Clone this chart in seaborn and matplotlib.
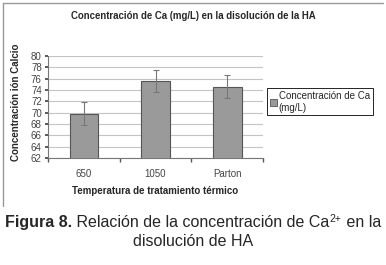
import matplotlib
matplotlib.use("Agg")
import matplotlib.pyplot as plt
from matplotlib.patches import Patch
from matplotlib.lines import Line2D
import seaborn as sns
import pandas as pd

# Data
categories = ["650", "1050", "Parton"]
calcium = [69.8, 75.6, 74.6]
errors = [2.0, 2.0, 2.0]

title = "Concentración de Ca (mg/L) en la disolución de la HA"
xlabel = "Temperatura de tratamiento térmico"
ylabel = "Concentración ión Calcio"
legend_label = "Concentración de Ca\n(mg/L)"
yticks = list(range(62, 81, 2))

df = pd.DataFrame({"cat": categories, "ca": calcium, "err": errors})

sns.set_theme(style="white")
plt.rcParams["font.family"] = ["Liberation Sans", "DejaVu Sans"]

W, H = 386, 265
fig = plt.figure(figsize=(W / 100, H / 100), dpi=100)
ax = fig.add_axes([48 / W, 1 - 158 / H, (263 - 48) / W, (158 - 56) / H])

sns.barplot(data=df, x="cat", y="ca", color="#9a9a9a", width=0.4,
            edgecolor="#555555", linewidth=0.8, errorbar=None, ax=ax, zorder=3)
ax.errorbar(range(len(categories)), df["ca"], yerr=df["err"], fmt="none",
            ecolor="#777777", elinewidth=0.8, capsize=2.5, capthick=0.8, zorder=4)

ax.set_ylim(62, 80)
ax.set_xlim(-0.5, 2.5)
ax.set_yticks(yticks)
ax.yaxis.grid(True, color="#c4c4c4", linewidth=0.8, zorder=0)
ax.set_axisbelow(True)
ax.tick_params(axis="y", labelsize=7, colors="#444444", length=2.5, left=True, pad=2)
ax.tick_params(axis="x", labelsize=7, colors="#444444", length=0, pad=8)
ax.set_xticks([-0.5, 0.5, 1.5, 2.5], minor=True)
ax.tick_params(axis="x", which="minor", length=3, bottom=True, color="#555555")
for s in ["top", "right"]:
    ax.spines[s].set_visible(False)
for s in ["left", "bottom"]:
    ax.spines[s].set_color("#777777")
    ax.spines[s].set_linewidth(0.8)

ax.set_xlabel(xlabel, fontsize=7, fontweight="bold", labelpad=5)
ax.set_ylabel(ylabel, fontsize=7, fontweight="bold", labelpad=3)
ax.yaxis.set_label_coords(-0.125, 0.55)
fig.text(0.5, 1 - 16 / H, title, ha="center", va="center", fontsize=6.9, fontweight="bold")

handle = Patch(facecolor="#9a9a9a", edgecolor="#555555", linewidth=0.6)
fig.legend([handle], [legend_label], loc="upper left",
           bbox_to_anchor=(267 / W, 1 - 88 / H), fontsize=7, frameon=True,
           fancybox=False, edgecolor="#000000", framealpha=1, handlelength=0.7,
           handleheight=0.7, handletextpad=0.2, borderpad=0.3, borderaxespad=0)
fig.legends[0].get_frame().set_linewidth(0.6)

# chart border (top and left only visible)
fig.add_artist(Line2D([3 / W, 383 / W], [1 - 3 / H, 1 - 3 / H], color="#999999", linewidth=1))
fig.add_artist(Line2D([3 / W, 3 / W], [1 - 3 / H, 1 - 206 / H], color="#999999", linewidth=1))

# caption: bold prefix, regular text, raised superscript
pieces = [("Figura 8.", "bold", 11.5, 0), (" Relación de la concentración de Ca", "normal", 11.5, 0),
          ("2+", "normal", 7.5, 5), (" en la", "normal", 11.5, 0)]
renderer = fig.canvas.get_renderer()
texts = []
for s, w, fs, dy in pieces:
    t = fig.text(0, 1 - 227 / H + dy / H, s, fontsize=fs, fontweight=w, ha="left", va="baseline")
    texts.append(t)
widths = [t.get_window_extent(renderer).width for t in texts]
x = (W - sum(widths)) / 2
for t, wd in zip(texts, widths):
    t.set_x(x / W)
    x += wd
fig.text(0.5, 1 - 246 / H, "disolución de HA", ha="center", va="baseline", fontsize=11.5)

fig.savefig("out.png", dpi=100)
